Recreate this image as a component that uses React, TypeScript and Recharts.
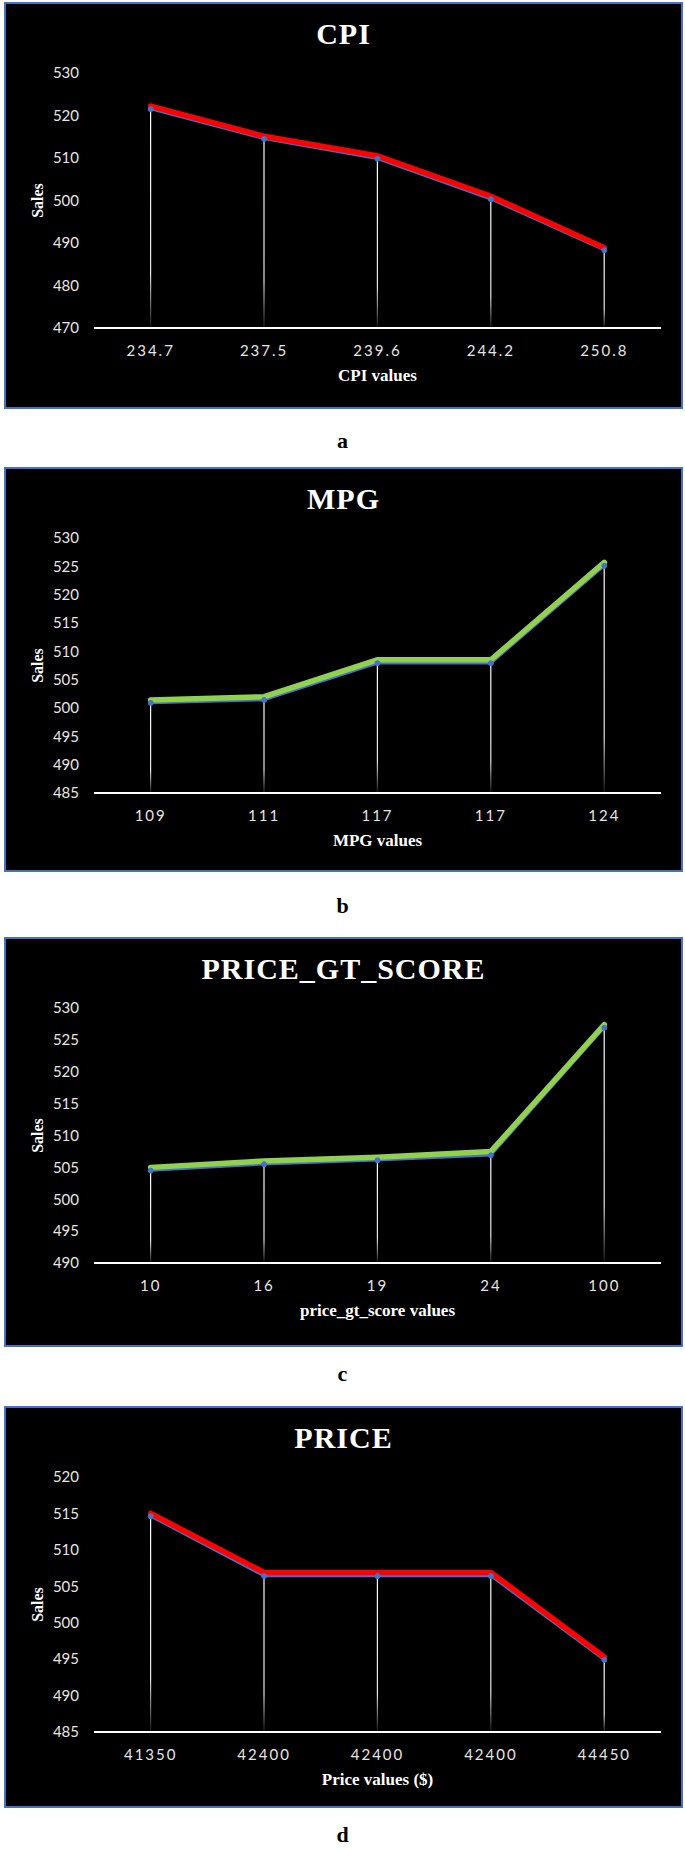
import React from 'react';
import { ComposedChart, Line, Bar, XAxis, YAxis } from 'recharts';

// (a) CPI
const cpiCategories = ['234.7', '237.5', '239.6', '244.2', '250.8'];
const cpiBlue = [521.5, 514.5, 509.8, 500.3, 488.3];
const cpiRed = [522.2, 515.1, 510.5, 501.0, 488.9];
const cpiTicks = [470, 480, 490, 500, 510, 520, 530];

// (b) MPG
const mpgCategories = ['109', '111', '117', '117', '124'];
const mpgBlue = [500.9, 501.4, 507.9, 507.9, 525.1];
const mpgGreen = [501.4, 502.0, 508.5, 508.5, 525.7];
const mpgTicks = [485, 490, 495, 500, 505, 510, 515, 520, 525, 530];

// (c) PRICE_GT_SCORE
const gtCategories = ['10', '16', '19', '24', '100'];
const gtBlue = [504.5, 505.5, 506.1, 506.9, 526.9];
const gtGreen = [505.0, 506.0, 506.6, 507.5, 527.4];
const gtTicks = [490, 495, 500, 505, 510, 515, 520, 525, 530];

// (d) PRICE
const priceCategories = ['41350', '42400', '42400', '42400', '44450'];
const priceBlue = [514.6, 506.4, 506.4, 506.4, 494.9];
const priceRed = [515.0, 506.9, 506.9, 506.9, 495.3];
const priceTicks = [485, 490, 495, 500, 505, 510, 515, 520];

const BLUE = '#4472C4';
const RED = '#FF0000';
const GREEN = '#92D050';

const SERIF = '"Liberation Serif", "Times New Roman", serif';

interface PanelProps {
  id: string;
  title: string;
  xTitle: string;
  categories: string[];
  blue: number[];
  front: number[];
  frontColor: string;
  ticks: number[];
  top: number;
  height: number;
  caption: string;
  captionBaseline: number;
}

const PANEL_LEFT = 4;
const PANEL_WIDTH = 679;
const BORDER = 2;

const Panel: React.FC<PanelProps> = ({
  id,
  title,
  xTitle,
  categories,
  blue,
  front,
  frontColor,
  ticks,
  top,
  height,
  caption,
  captionBaseline,
}) => {
  const data = categories.map((c, i) => ({ cat: c, blue: blue[i], front: front[i] }));
  const chartW = PANEL_WIDTH - BORDER * 2;
  const chartH = height - BORDER * 2;
  const plotTop = 69;
  const axisY = 324;
  const xAxisH = 60;

  return (
    <>
      <div
        style={{
          position: 'absolute',
          left: PANEL_LEFT,
          top,
          width: PANEL_WIDTH,
          height,
          boxSizing: 'border-box',
          border: `${BORDER}px solid ${BLUE}`,
          background: '#000',
        }}
      >
        <div
          style={{
            position: 'absolute',
            left: 0,
            right: 0,
            top: 15,
            textAlign: 'center',
            color: '#fff',
            fontFamily: SERIF,
            fontWeight: 'bold',
            fontSize: 30,
            lineHeight: '30px',
            letterSpacing: 1,
          }}
        >
          {title}
        </div>
        <ComposedChart
          width={chartW}
          height={chartH}
          data={data}
          margin={{ top: plotTop, right: 20, left: 0, bottom: chartH - axisY - xAxisH }}
        >
          <defs>
            <linearGradient id={`drop-${id}`} x1="0" y1="0" x2="0" y2="1">
              <stop offset="0%" stopColor="#ffffff" stopOpacity={1} />
              <stop offset="75%" stopColor="#ffffff" stopOpacity={0.9} />
              <stop offset="100%" stopColor="#ffffff" stopOpacity={0.08} />
            </linearGradient>
          </defs>
          <XAxis
            dataKey="cat"
            interval={0}
            axisLine={{ stroke: '#ffffff', strokeWidth: 2 }}
            tickLine={false}
            tickSize={0}
            tickMargin={17}
            height={xAxisH}
            tick={{ fill: '#e6e6e6', fontSize: 15, fontFamily: 'Lato', letterSpacing: 2 }}
            label={(p: any) => {
              const vb = p.viewBox;
              return (
                <text
                  x={vb.x + vb.width / 2}
                  y={vb.y + 53}
                  textAnchor="middle"
                  fill="#ffffff"
                  fontFamily={SERIF}
                  fontWeight="bold"
                  fontSize={17}
                >
                  {xTitle}
                </text>
              );
            }}
          />
          <YAxis
            domain={[ticks[0], ticks[ticks.length - 1]]}
            ticks={ticks}
            width={88}
            axisLine={false}
            tickLine={false}
            tickSize={0}
            tickMargin={15}
            tick={{ fill: '#e6e6e6', fontSize: 15, fontFamily: 'Lato' }}
            label={(p: any) => {
              const vb = p.viewBox;
              const cx = vb.x + 31;
              const cy = vb.y + vb.height / 2;
              return (
                <text
                  x={cx}
                  y={cy}
                  textAnchor="middle"
                  dominantBaseline="central"
                  transform={`rotate(-90 ${cx} ${cy})`}
                  fill="#ffffff"
                  fontFamily={SERIF}
                  fontWeight="bold"
                  fontSize={16}
                >
                  Sales
                </text>
              );
            }}
          />
          <Bar dataKey="blue" barSize={1.2} fill={`url(#drop-${id})`} isAnimationActive={false} />
          <Line
            type="linear"
            dataKey="blue"
            stroke={BLUE}
            strokeWidth={2.5}
            dot={{ r: 2.5, fill: BLUE, stroke: BLUE, strokeWidth: 1 }}
            activeDot={false}
            isAnimationActive={false}
          />
          <Line
            type="linear"
            dataKey="front"
            stroke={frontColor}
            strokeWidth={5.5}
            strokeLinecap="round"
            dot={false}
            activeDot={false}
            isAnimationActive={false}
          />
        </ComposedChart>
      </div>
      <div
        style={{
          position: 'absolute',
          left: 0,
          width: 685,
          top: captionBaseline - 18,
          textAlign: 'center',
          fontFamily: SERIF,
          fontWeight: 'bold',
          fontSize: 22,
          lineHeight: '22px',
          color: '#000',
        }}
      >
        {caption}
      </div>
    </>
  );
};

const App: React.FC = () => {
  return (
    <div style={{ position: 'relative', width: 685, height: 1851, background: '#fff', overflow: 'hidden' }}>
      <style>{'body{margin:0}'}</style>
      <Panel
        id="a"
        title="CPI"
        xTitle="CPI values"
        categories={cpiCategories}
        blue={cpiBlue}
        front={cpiRed}
        frontColor={RED}
        ticks={cpiTicks}
        top={2}
        height={407}
        caption="a"
        captionBaseline={448}
      />
      <Panel
        id="b"
        title="MPG"
        xTitle="MPG values"
        categories={mpgCategories}
        blue={mpgBlue}
        front={mpgGreen}
        frontColor={GREEN}
        ticks={mpgTicks}
        top={467}
        height={405}
        caption="b"
        captionBaseline={913}
      />
      <Panel
        id="c"
        title="PRICE_GT_SCORE"
        xTitle="price_gt_score values"
        categories={gtCategories}
        blue={gtBlue}
        front={gtGreen}
        frontColor={GREEN}
        ticks={gtTicks}
        top={937}
        height={410}
        caption="c"
        captionBaseline={1381}
      />
      <Panel
        id="d"
        title="PRICE"
        xTitle="Price values ($)"
        categories={priceCategories}
        blue={priceBlue}
        front={priceRed}
        frontColor={RED}
        ticks={priceTicks}
        top={1406}
        height={402}
        caption="d"
        captionBaseline={1842}
      />
    </div>
  );
};

export default App;
